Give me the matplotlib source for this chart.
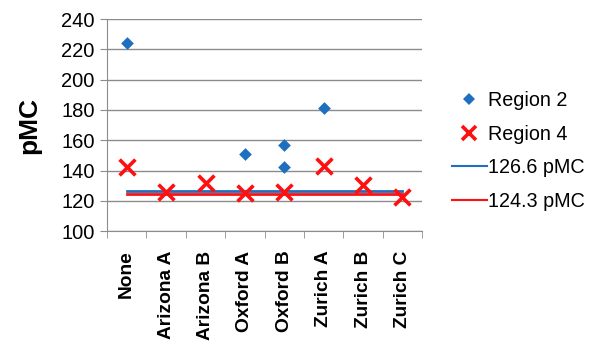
import numpy as np
import matplotlib
matplotlib.use("Agg")
import matplotlib.pyplot as plt
from matplotlib.lines import Line2D

plt.rcParams['font.family'] = ['Liberation Sans', 'DejaVu Sans']

labs = ["None", "Arizona A", "Arizona B", "Oxford A", "Oxford B",
        "Zurich A", "Zurich B", "Zurich C"]

# region 2 samples (category index, pMC)
r2_idx = [0, 3, 4, 4, 5]
r2_val = [224.5, 151, 157, 142, 181]

# region 4 samples, one per category
r4_val = [142, 125.5, 132, 125, 125.5, 143, 130.5, 122.5]

mean2 = 126.6
mean4 = 124.3

blue = "#1F6FC0"
red = "#FF1010"
grey = "#8C8C8C"

fig = plt.figure(figsize=(5.98, 3.47), dpi=100)
ax = fig.add_axes([0.179, 0.334, 0.527, 0.611])

x = np.arange(len(labs))
ax.plot([x[0], x[-1]], [mean2, mean2], color=blue, lw=2, zorder=2)
ax.plot([x[0], x[-1]], [mean4, mean4], color=red, lw=2, zorder=2)
ax.scatter(r2_idx, r2_val, marker="D", s=42, color=blue, zorder=3, linewidths=0)
ax.scatter(x, r4_val, marker="x", s=130, color=red, linewidths=2.6, zorder=4)

ax.set_xlim(-0.5, len(labs) - 0.5)
ax.set_ylim(100, 240)
ax.set_yticks(np.arange(100, 241, 20))
ax.yaxis.grid(True, color=grey, lw=1)
ax.set_axisbelow(True)

ax.set_xticks(x)
ax.set_xticklabels(labs, rotation=90, fontsize=13.8, fontweight="bold")
ax.set_xticks(np.arange(-0.5, len(labs)), minor=True)
ax.tick_params(axis="x", which="major", length=0, pad=14)
ax.tick_params(axis="x", which="minor", length=5, color=grey, direction="out")
ax.tick_params(axis="y", length=5, color=grey, labelsize=14.5, pad=4)

for s in ["top", "right"]:
    ax.spines[s].set_visible(False)
for s in ["left", "bottom"]:
    ax.spines[s].set_color(grey)

ax.set_ylabel("pMC", fontsize=19, fontweight="bold", labelpad=14)

handles = [
    Line2D([], [], marker="D", ls="none", color=blue, markersize=6.5, markeredgewidth=0),
    Line2D([], [], marker="x", ls="none", color=red, markersize=10, markeredgewidth=2.6),
    Line2D([], [], color=blue, lw=1.5),
    Line2D([], [], color=red, lw=1.5),
]
names = ["Region 2", "Region 4", "126.6 pMC", "124.3 pMC"]
fig.legend(handles, names, loc="center left", bbox_to_anchor=(0.742, 0.565),
           frameon=False, fontsize=14.2, handlelength=1.8, handletextpad=0.05,
           labelspacing=0.75, borderaxespad=0)

fig.savefig("out.png", dpi=100)
